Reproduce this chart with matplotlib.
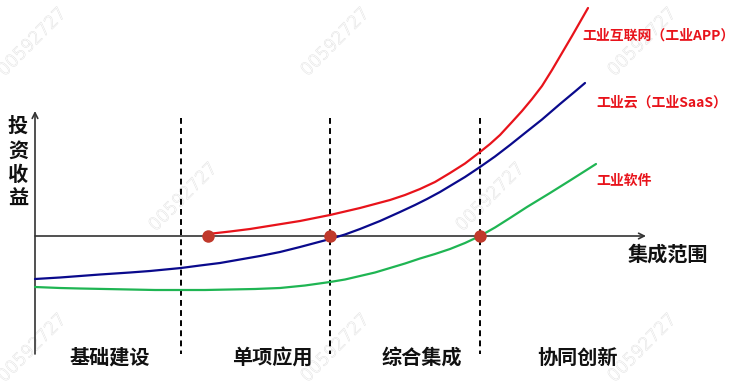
import matplotlib
matplotlib.use("Agg")
import matplotlib.pyplot as plt
import matplotlib.patheffects as pe

plt.rcParams['font.family'] = ['Noto Sans CJK SC', 'DejaVu Sans']

# Canvas in pixel units (y grows downward)
W, H = 732, 382

# Axes geometry
origin_x = 35
baseline_y = 236
axis_top = 111
axis_bottom = 354
axis_right = 646

# Stage boundaries and labels
stage_bounds = [181, 330, 480]
stage_labels = ["基础建设", "单项应用", "综合集成", "协同创新"]
stage_label_x = [110, 272, 422, 577]

# Curves: industrial software, industrial cloud, industrial internet
software_x = [35, 60, 80, 105, 130, 155, 181, 205, 230, 255, 280, 305, 330, 345, 360, 375, 390,
              405, 420, 435, 450, 465, 480, 495, 510, 527, 550, 570, 585, 596]
software_y = [287, 288, 288.5, 289, 289.5, 290, 290, 290, 289.5, 289, 288, 285.5, 282, 279.5, 276, 272.5, 268,
              263.5, 258.5, 254, 249, 243, 236, 227.5, 218, 207, 193, 180.5, 171, 164]

cloud_x = [35, 60, 100, 130, 150, 181, 200, 220, 240, 260, 280, 300, 315, 330, 345, 360, 380,
           400, 415, 427, 440, 450, 465, 480, 495, 510, 525, 542, 560, 575, 585]
cloud_y = [279, 277.5, 274.5, 272.5, 271, 268, 265.5, 263, 259.5, 256, 252, 247, 243, 239, 234.5, 229, 221,
           212, 205, 199, 192, 186, 177, 167, 156.5, 145, 133, 119.5, 104, 91.5, 83]

internet_x = [208, 230, 250, 275, 300, 315, 330, 345, 360, 375, 390, 405, 420, 435, 450, 465,
              480, 490, 500, 512, 522, 532, 542, 552, 562, 572, 580, 588]
internet_y = [234, 231.5, 229, 225, 221, 218, 215, 211.5, 208, 204, 200, 195, 189, 182, 173, 163.5,
              152, 144, 135, 122, 111, 99, 86, 70, 53, 36, 22, 8]

# Milestone points on the baseline
milestone_x = [208, 330, 480]
milestone_y = [baseline_y, baseline_y, baseline_y]

# Curve labels
curve_labels = ["工业互联网（工业APP）", "工业云（工业SaaS）", "工业软件"]
curve_label_pos = [(582, 36), (596, 103), (596, 181)]

# Watermark positions
mark_text = "00592727"
mark_pos = [(32, 42), (335, 42), (642, 42), (183, 197), (490, 197),
            (32, 348), (335, 348), (642, 348)]

RED = "#e8131b"
BLUE = "#0a0a8c"
GREEN = "#1fb553"
DOT = "#c0392b"
AXIS = "#333333"

fig = plt.figure(figsize=(W / 100, H / 100), dpi=100)
ax = fig.add_axes([0, 0, 1, 1])
ax.set_xlim(0, W)
ax.set_ylim(H, 0)
ax.axis('off')

# Watermarks
for (mx, my) in mark_pos:
    ax.text(mx, my, mark_text, rotation=45, ha='center', va='center',
            fontsize=12.5, family='DejaVu Sans', fontweight='light', color='white',
            zorder=0,
            path_effects=[pe.withStroke(linewidth=0.7, foreground='#e2e2e2')])

# Stage dividers
for bx in stage_bounds:
    ax.plot([bx, bx], [118, axis_bottom], color='black', lw=1.4,
            linestyle=(0, (3, 2.2)), zorder=2)

# Axes with arrows
ax.annotate("", xy=(origin_x, axis_top), xytext=(origin_x, axis_bottom),
            arrowprops=dict(arrowstyle='->', color=AXIS, lw=1.2,
                            mutation_scale=10, shrinkA=0, shrinkB=0), zorder=3)
ax.annotate("", xy=(axis_right, baseline_y), xytext=(origin_x, baseline_y),
            arrowprops=dict(arrowstyle='->', color=AXIS, lw=1.2,
                            mutation_scale=10, shrinkA=0, shrinkB=0), zorder=3)

# Curves
ax.plot(software_x, software_y, color=GREEN, lw=1.6, zorder=4, solid_capstyle='round')
ax.plot(cloud_x, cloud_y, color=BLUE, lw=1.6, zorder=4, solid_capstyle='round')
ax.plot(internet_x, internet_y, color=RED, lw=1.6, zorder=4, solid_capstyle='round')

# Milestones
ax.plot(milestone_x, milestone_y, 'o', color=DOT, markersize=9, zorder=5,
        markeredgewidth=0)

# Axis titles
ax.text(18, 162, "投\n资\n收\n益", ha='center', va='center', fontsize=14.5,
        fontweight='bold', linespacing=1.2, color='#111111')
ax.text(668, 254, "集成范围", ha='center', va='center', fontsize=14.5,
        fontweight='bold', color='#111111')

# Stage labels
for lx, lab in zip(stage_label_x, stage_labels):
    ax.text(lx, 357, lab, ha='center', va='center', fontsize=14.5,
            fontweight='bold', color='#111111')

# Curve labels
for lab, (lx, ly) in zip(curve_labels, curve_label_pos):
    ax.text(lx, ly, lab, ha='left', va='center', fontsize=10,
            fontweight='bold', color=RED)

fig.savefig("out.png", dpi=100)
